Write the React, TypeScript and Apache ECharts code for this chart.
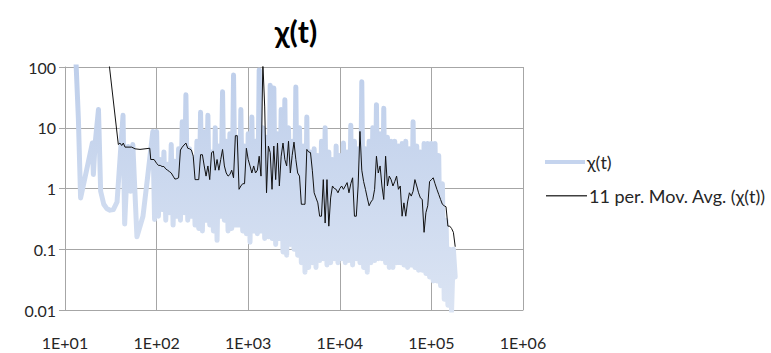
import React, { useEffect, useRef } from "react";
import * as echarts from "echarts";

// ---- data ----
const chiEarlyT = [13, 14, 14.8, 17.2, 19.9, 20.4, 21.3, 23.2, 24.5, 26.5, 28.5, 31, 33.7, 37, 43, 44.8, 49, 52, 55, 61, 71, 80, 91, 95];
const chiEarlyVal = [200, 14, 0.7, 2.0, 5.6, 1.7, 5.4, 20, 0.9, 0.55, 0.47, 0.44, 0.45, 0.6, 16, 0.26, 4.9, 0.9, 5.3, 0.16, 0.35, 1.6, 8.7, 0.31];

const maEarlyT = [30, 38.2, 39.8, 41.6, 43.3, 45.2, 53.5, 58.1, 65.9, 84.2, 86.3, 93.8];
const maEarlyVal = [130, 5.3, 5.6, 5.1, 5.6, 4.8, 4.8, 4.5, 4.4, 4.6, 3.0, 3.0];

const tGrid = [
  100, 104.7, 109.6, 114.8, 120.2, 125.9, 131.8, 138.0, 144.5, 151.4, 158.5, 166.0, 173.8, 182.0, 190.5, 199.5, 208.9, 218.8, 229.1, 239.9,
  251.2, 263.0, 275.4, 288.4, 302.0, 316.2, 331.1, 346.7, 363.1, 380.2, 398.1, 416.9, 436.5, 457.1, 478.6, 501.2, 524.8, 549.5, 575.4, 602.6,
  631.0, 660.7, 691.8, 724.4, 758.6, 794.3, 831.8, 871.0, 912.0, 955.0,
  1000, 1047, 1096, 1148, 1202, 1259, 1318, 1380, 1445, 1514, 1585, 1660, 1738, 1820, 1905, 1995, 2089, 2188, 2291, 2399,
  2512, 2630, 2754, 2884, 3020, 3162, 3311, 3467, 3631, 3802, 3981, 4169, 4365, 4571, 4786, 5012, 5248, 5495, 5754, 6026,
  6310, 6607, 6918, 7244, 7586, 7943, 8318, 8710, 9120, 9550,
  10000, 10470, 10960, 11480, 12020, 12590, 13180, 13800, 14450, 15140, 15850, 16600, 17380, 18200, 19050, 19950, 20890, 21880, 22910, 23990,
  25120, 26300, 27540, 28840, 30200, 31620, 33110, 34670, 36310, 38020, 39810, 41690, 43650, 45710, 47860, 50120, 52480, 54950, 57540, 60260,
  63100, 66070, 69180, 72440, 75860, 79430, 83180, 87100, 91200, 95500,
  100000, 104700, 109600, 114800, 120200, 125900, 131800, 138000, 144500, 151400, 158500, 166000, 173800, 182000,
];

const chiGridVal = [
  8.7, 0.35, 3.0, 0.45, 4.0, 0.3, 2.5, 0.4, 5.3, 0.25,
  2.8, 0.35, 4.5, 0.3, 12.5, 0.4, 35, 0.3, 4.5, 0.35,
  3.2, 0.25, 6, 0.22, 18, 0.2, 8.6, 0.3, 16, 0.25,
  4, 0.2, 10, 0.14, 5, 0.35, 39, 0.3, 6, 0.2,
  8, 0.22, 74, 0.25, 7, 0.25, 20, 0.2, 5, 0.18,
  8, 0.13, 15, 0.2, 6, 0.18, 89, 0.2, 10, 0.15,
  7, 0.16, 50, 0.15, 45, 0.12, 8, 0.15, 20, 0.09,
  29, 0.08, 10, 0.12, 6, 0.1, 47, 0.08, 10, 0.06,
  5, 0.042, 15, 0.05, 4, 0.06, 4.5, 0.05, 3.5, 0.065,
  6, 0.07, 10, 0.055, 4, 0.06, 3, 0.07, 5, 0.06,
  3.5, 0.07, 5.6, 0.06, 4, 0.065, 11, 0.055, 6, 0.07,
  4.5, 0.06, 57, 0.05, 4.5, 0.042, 6, 0.06, 10, 0.065,
  24, 0.07, 8, 0.07, 21, 0.06, 7, 0.05, 6, 0.05,
  6, 0.06, 5, 0.06, 5.5, 0.055, 6, 0.05, 4.5, 0.055,
  12.5, 0.05, 5, 0.045, 4, 0.045, 5.5, 0.04, 5.5, 0.035,
  5.5, 0.03, 5.5, 0.03, 3.5, 0.025, 1.2, 0.015, 0.3, 0.012,
  0.1, 0.0095, 0.1, 0.035,
];

const maGridVal = [
  2.6, 2.4, 2.4, 2.3, 2.3, 2.1, 2.0, 1.9, 1.8, 1.6,
  1.43, 1.45, 1.5, 4.3, 4.8, 5.2, 5.6, 4.6, 4.5, 4.3,
  3.4, 1.4, 1.4, 1.4, 3.6, 3.6, 2.35, 1.6, 2.35, 1.4,
  3.9, 4.1, 2.0, 3.0, 2.0, 3.0, 4.4, 2.35, 1.8, 1.6,
  1.7, 2.0, 1.5, 7.4, 7.4, 0.97, 1.1, 1.2, 1.2, 4.6,
  3.0, 2.35, 1.8, 2.35, 1.8, 2.0, 3.4, 1.6, 120, 22,
  0.85, 5.0, 3.9, 0.97, 5.0, 1.4, 5.6, 1.1, 3.4, 5.6,
  3.0, 2.35, 6.0, 1.8, 3.5, 5.8, 3.0, 1.8, 1.6, 0.55,
  0.55, 0.55, 4.4, 4.0, 3.9, 2.0, 0.85, 0.7, 0.58, 0.35,
  0.35, 1.4, 0.27, 1.4, 0.24, 0.7, 1.1, 1.0, 0.97, 0.85,
  1.0, 1.1, 0.97, 1.1, 1.25, 0.85, 1.2, 1.5, 0.35, 0.35,
  1.1, 8.7, 2.0, 1.3, 0.97, 0.7, 0.52, 0.6, 0.66, 0.97,
  3.4, 1.8, 2.35, 1.1, 0.66, 3.4, 1.1, 1.6, 1.4, 1.1,
  1.3, 1.6, 0.97, 1.1, 0.35, 0.58, 0.35, 0.6, 0.85, 0.75,
  0.9, 1.4, 1.1, 0.85, 0.7, 0.66, 0.19, 0.4, 0.52, 1.3,
  1.4, 1.5, 1.2, 0.97, 0.8, 0.66, 0.55, 0.52, 0.5, 0.24,
  0.24, 0.22, 0.19, 0.11,
];

const seriesNames = ["χ(t)", "11 per. Mov. Avg. (χ(t))"];
const chartTitle = "χ(t)";

const FONT = "Lato, 'Open Sans', 'Noto Sans', sans-serif";

export default function App() {
  const ref = useRef<HTMLDivElement>(null);

  useEffect(() => {
    if (!ref.current) return;
    const chart = echarts.init(ref.current, undefined, { renderer: "svg" });

    const chiData = chiEarlyT.map((t, i) => [t, chiEarlyVal[i]]).concat(tGrid.map((t, i) => [t, chiGridVal[i]]));
    const maData = maEarlyT.map((t, i) => [t, maEarlyVal[i]]).concat(tGrid.map((t, i) => [t, maGridVal[i]]));

    const xFmt = (v: number) => {
      const e = Math.round(Math.log10(v));
      return "1E+" + (e < 10 ? "0" + e : String(e));
    };
    const yFmt = (v: number) => (v >= 1 ? String(Math.round(v)) : String(+v.toPrecision(1)));

    chart.setOption({
      animation: false,
      backgroundColor: "#ffffff",
      grid: { left: 65, right: 248, top: 67, bottom: 43, containLabel: false },
      xAxis: {
        type: "log",
        logBase: 10,
        min: 10,
        max: 1000000,
        axisLine: { show: true, lineStyle: { color: "#a6a6a6", width: 1 } },
        axisTick: { show: false },
        splitLine: { show: true, lineStyle: { color: "#a6a6a6", width: 1 } },
        axisLabel: { formatter: xFmt, color: "#262626", fontFamily: FONT, fontSize: 16, margin: 24 },
      },
      yAxis: {
        type: "log",
        logBase: 10,
        min: 0.01,
        max: 100,
        axisLine: { show: true, lineStyle: { color: "#a6a6a6", width: 1 } },
        axisTick: { show: true, inside: false, length: 6, lineStyle: { color: "#a6a6a6" } },
        splitLine: { show: true, lineStyle: { color: "#a6a6a6", width: 1 } },
        axisLabel: { formatter: yFmt, color: "#262626", fontFamily: FONT, fontSize: 16, margin: 9 },
      },
      series: [
        {
          name: seriesNames[0],
          type: "line",
          data: chiData,
          showSymbol: false,
          clip: true,
          lineStyle: {
            width: 5,
            cap: "round",
            join: "round",
            color: new echarts.graphic.LinearGradient(0, 0, 0, 1, [
              { offset: 0, color: "#bccdea" },
              { offset: 1, color: "#dbe4f3" },
            ]),
          },
          z: 2,
        },
        {
          name: seriesNames[1],
          type: "line",
          data: maData,
          showSymbol: false,
          clip: true,
          lineStyle: { width: 1, color: "#111111", join: "miter" },
          z: 3,
        },
      ],
      graphic: [
        {
          type: "text",
          x: 296,
          y: 31,
          style: {
            text: chartTitle,
            fill: "#000000",
            font: "bold 30px " + FONT,
            textAlign: "center",
            textVerticalAlign: "middle",
          },
        },
        { type: "rect", shape: { x: 545, y: 160, width: 40, height: 4 }, style: { fill: "#c5d4ee" } },
        {
          type: "text",
          x: 587,
          y: 162,
          style: { text: seriesNames[0], fill: "#262626", font: "18px " + FONT, textVerticalAlign: "middle" },
        },
        { type: "rect", shape: { x: 546, y: 195, width: 41, height: 1.5 }, style: { fill: "#404040" } },
        {
          type: "text",
          x: 589,
          y: 196,
          style: { text: seriesNames[1], fill: "#262626", font: "18px " + FONT, textVerticalAlign: "middle" },
        },
      ],
    });

    return () => chart.dispose();
  }, []);

  return (
    <div
      ref={ref}
      style={{ position: "fixed", left: 0, top: 0, width: 771, height: 353 }}
    />
  );
}
